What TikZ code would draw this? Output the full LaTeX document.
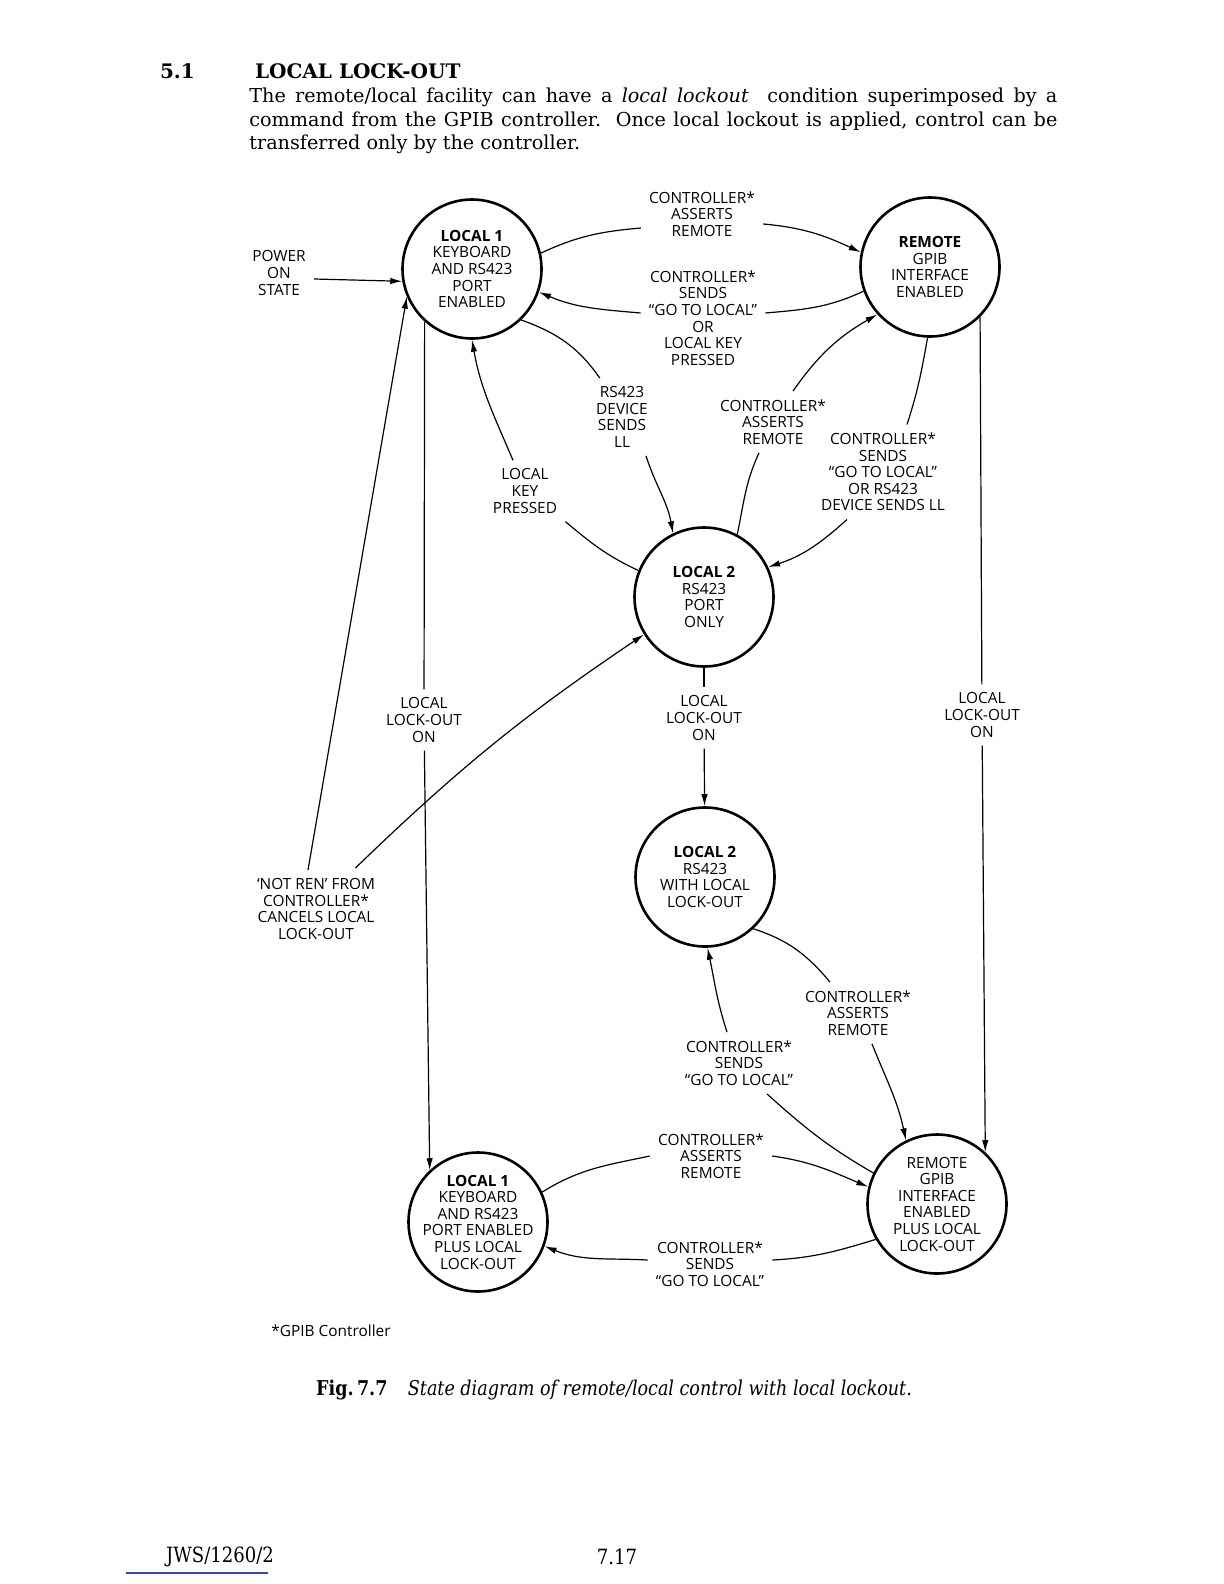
\documentclass[tikz,border=0pt]{standalone}
\usepackage{fontspec}
\setmainfont{DejaVu Serif}
\newfontfamily\diagfont{Open Sans}
\newfontfamily\narrowserif[FakeStretch=0.86]{DejaVu Serif}
\usetikzlibrary{arrows.meta}
\definecolor{inkblue}{RGB}{52,72,168}
\tikzset{state/.style={circle,draw,line width=1.3pt,minimum size=69.5pt,inner sep=-10pt,align=center,font=\diagfont\fontsize{7.7}{8.3}\selectfont},
  cond/.style={align=center,inner sep=4pt,font=\diagfont\fontsize{7.7}{8.3}\selectfont},
  line/.style={line width=0.6pt,-{Latex[length=6pt,width=3.2pt]}},
  seg/.style={line width=0.6pt}}
\begin{document}
\begin{tikzpicture}[x=0.5pt,y=-0.5pt]
\useasboundingbox (0,0) rectangle (1224,1584);
\node[anchor=west,font=\bfseries\fontsize{10}{12}\selectfont] (secnum) at (153,71) {5.1};
\node[anchor=west,font=\bfseries\fontsize{10}{12}\selectfont] (sectitle) at (248,71) {LOCAL LOCK-OUT};
\node[anchor=north west,inner sep=0pt,text width=404pt,align=justify,font=\fontsize{9.6}{11.75}\selectfont] (para) at (249,88)
  {The remote/local facility can have a \textit{local lockout}\ \ condition superimposed by a\linebreak
   command from the GPIB controller.\ \ Once local lockout is applied, control can be\linebreak
   transferred only by the controller.};

\node[state] (l1) at (472,269) {\textbf{LOCAL 1}\\KEYBOARD\\AND RS423\\PORT\\ENABLED};
\node[state] (rem) at (930,267) {\textbf{REMOTE}\\GPIB\\INTERFACE\\ENABLED};
\node[state] (ltwo) at (704,597) {\textbf{LOCAL 2}\\RS423\\PORT\\ONLY};
\node[state] (ltwolo) at (705,877) {\textbf{LOCAL 2}\\RS423\\WITH LOCAL\\LOCK-OUT};
\node[state] (lonelo) at (478,1222) {\textbf{LOCAL 1}\\KEYBOARD\\AND RS423\\PORT ENABLED\\PLUS LOCAL\\LOCK-OUT};
\node[state] (remlo) at (937,1204) {REMOTE\\GPIB\\INTERFACE\\ENABLED\\PLUS LOCAL\\LOCK-OUT};

\node[cond] (power) at (279,273) {POWER\\ON\\STATE};
\node[cond] (tA) at (702,214) {CONTROLLER*\\ASSERTS\\REMOTE};
\node[cond] (tS) at (703,318) {CONTROLLER*\\SENDS\\“GO TO LOCAL”\\OR\\LOCAL KEY\\PRESSED};
\node[cond] (rs) at (622,417) {RS423\\DEVICE\\SENDS\\LL};
\node[cond] (lk) at (525,491) {LOCAL\\KEY\\PRESSED};
\node[cond] (mA) at (773,422) {CONTROLLER*\\ASSERTS\\REMOTE};
\node[cond] (mS) at (883,472) {CONTROLLER*\\SENDS\\“GO TO LOCAL”\\OR RS423\\DEVICE SENDS LL};
\node[cond] (lloL) at (424,720) {LOCAL\\LOCK-OUT\\ON};
\node[cond] (lloM) at (704,718) {LOCAL\\LOCK-OUT\\ON};
\node[cond] (lloR) at (982,715) {LOCAL\\LOCK-OUT\\ON};
\node[cond] (notren) at (316,909) {‘NOT REN’ FROM\\CONTROLLER*\\CANCELS LOCAL\\LOCK-OUT};
\node[cond] (bA) at (858,1013) {CONTROLLER*\\ASSERTS\\REMOTE};
\node[cond] (bS) at (739,1063) {CONTROLLER*\\SENDS\\“GO TO LOCAL”};
\node[cond] (cA) at (711,1156) {CONTROLLER*\\ASSERTS\\REMOTE};
\node[cond] (cS) at (710,1264) {CONTROLLER*\\SENDS\\“GO TO LOCAL”};
\node[cond,anchor=west] (foot) at (263,1331) {*GPIB Controller};

\draw[line] ([yshift=-3pt]power.east) -- (l1.190);
\draw[seg] (l1.13) to[out=25,in=185] ([yshift=-7pt]tA.west);
\draw[line] ([yshift=-5pt]tA.east) to[out=-5,in=155] (rem.168);
\draw[seg] (rem.200) to[out=205,in=5] ([yshift=2.5pt]tS.east);
\draw[line] ([yshift=2.5pt]tS.west) to[out=175,in=-23] (l1.-19);
\draw[seg] (l1.-46) to[out=-20,in=125] ([xshift=6pt]rs.north west);
\draw[line] ([xshift=12pt]rs.south) to[out=-72,in=100] (ltwo.116);
\draw[seg] (ltwo.158) to[out=155,in=-40] (lk.south east);
\draw[line] ([xshift=-6pt]lk.north) to[out=113,in=-80] (l1.-90);
\draw[seg] (ltwo.62) to[out=78,in=-115] ([xshift=-7pt]mA.south);
\draw[line] ([xshift=10pt]mA.north) to[out=55,in=210] (rem.222);
\draw[seg] (rem.-92) to[out=-100,in=72] ([xshift=12pt]mS.north);
\draw[line] ([xshift=-18pt]mS.south) to[out=-138,in=18] (ltwo.25);
\draw[seg] (ltwo) -- (lloM);
\draw[line] (lloM) -- (ltwolo);
\draw[seg] (l1.228) -- (lloL);
\draw[line] (lloL) -- (lonelo.133);
\draw[seg] (rem.-45) -- (lloR);
\draw[line] (lloR) -- (remlo.47);
\draw[line] ([xshift=-4pt]notren.north) -- (l1.203);
\draw[line] ([xshift=-14pt,yshift=1pt]notren.north east) to[bend left=5] (ltwo.212);
\draw[seg] (ltwolo.-47) to[out=-18,in=130] ([xshift=-14pt]bA.north);
\draw[line] ([xshift=7pt]bA.south) to[out=-68,in=102] (remlo.116);
\draw[seg] (remlo.154) to[out=150,in=-42] ([xshift=14pt]bS.south);
\draw[line] ([xshift=-6pt]bS.north) to[out=108,in=-78] (ltwolo.-88);
\draw[seg] (lonelo.25) to[out=32,in=192] (cA.west);
\draw[line] (cA.east) to[out=-8,in=157] (remlo.166);
\draw[seg] (remlo.210) to[out=197,in=3] ([yshift=2pt]cS.east);
\draw[line] ([yshift=2pt]cS.west) to[out=177,in=-22] (lonelo.-20);

\node[font=\narrowserif\fontsize{10.2}{12}\selectfont] (caption) at (614,1390)
  {\textbf{Fig.\,7.7}\quad\textit{State diagram of remote/local control with local lockout.}};
\node[font=\narrowserif\fontsize{10.5}{12}\selectfont] (docid) at (220,1557) {JWS/1260/2};
\node[font=\narrowserif\fontsize{10.5}{12}\selectfont] (pageno) at (617,1557) {7.17};
\draw[inkblue,line width=0.8pt] (126,1573) -- (268,1573);
\end{tikzpicture}
\end{document}
